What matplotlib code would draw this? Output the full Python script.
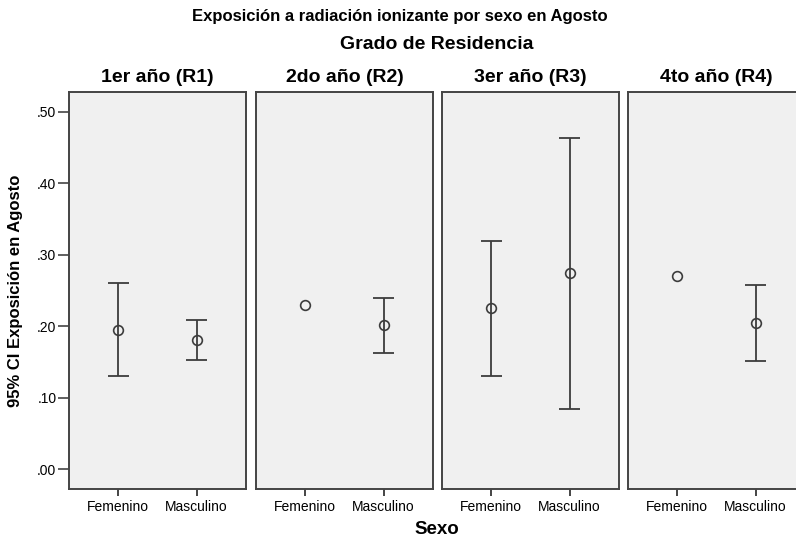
import matplotlib
matplotlib.use('Agg')
import matplotlib.pyplot as plt
from matplotlib.ticker import FuncFormatter

plt.rcParams['font.family'] = ['Liberation Sans', 'DejaVu Sans']

panels = ['1er año (R1)', '2do año (R2)', '3er año (R3)', '4to año (R4)']
sexo = ['Femenino', 'Masculino']
# media y limites del IC 95% (None = sin intervalo)
media = [[0.195, 0.181], [0.230, 0.202], [0.225, 0.274], [0.270, 0.205]]
ic_inf = [[0.130, 0.152], [None, 0.163], [0.130, 0.084], [None, 0.151]]
ic_sup = [[0.260, 0.208], [None, 0.239], [0.320, 0.464], [None, 0.258]]
y_ticks = [0.0, 0.1, 0.2, 0.3, 0.4, 0.5]

W, H = 796, 541
fig = plt.figure(figsize=(W / 100, H / 100), dpi=100)
fig.patch.set_facecolor('white')

edge = '#444444'
line_c = '#3c3c3c'
lefts = [69, 256, 442, 628]
pw = 177
top, bottom = 92, 489

for i, name in enumerate(panels):
    ax = fig.add_axes([lefts[i] / W, 1 - bottom / H, pw / W, (bottom - top) / H])
    ax.set_facecolor('#f0f0f0')
    for s in ax.spines.values():
        s.set_color(edge)
        s.set_linewidth(1.4)
    for j in range(2):
        if ic_inf[i][j] is not None:
            ax.vlines(j, ic_inf[i][j], ic_sup[i][j], color=line_c, lw=1.3)
            ax.hlines([ic_inf[i][j], ic_sup[i][j]], j - 0.13, j + 0.13, color=line_c, lw=1.3)
        ax.plot(j, media[i][j], 'o', ms=7, mfc='none', mec=line_c, mew=1.2)
    ax.set_xlim(-0.63, 1.63)
    ax.set_ylim(-0.028, 0.528)
    ax.set_xticks([0, 1])
    ax.set_xticklabels(sexo, fontsize=10)
    ax.tick_params(axis='x', length=5, width=1.4, color=edge, pad=3)
    if i == 0:
        ax.set_yticks(y_ticks)
        ax.yaxis.set_major_formatter(FuncFormatter(lambda v, p: ('%.2f' % v)[1:]))
        ax.tick_params(axis='y', length=8, width=1.2, color=edge, labelsize=10, pad=1)
        ax.set_ylabel('95% CI Exposición en Agosto', fontsize=12, fontweight='bold')
        ax.yaxis.set_label_coords(-0.26, 0.5)
    else:
        ax.set_yticks([])
    if i == 3:
        ax.spines['right'].set_visible(False)
    ax.set_title(name, fontsize=14, fontweight='bold', pad=7)

fig.text(400 / W, 1 - 17 / H, 'Exposición a radiación ionizante por sexo en Agosto',
         ha='center', va='center', fontsize=12, fontweight='bold')
fig.text(437 / W, 1 - 45 / H, 'Grado de Residencia',
         ha='center', va='center', fontsize=14, fontweight='bold')
fig.text(437 / W, 1 - 530 / H, 'Sexo',
         ha='center', va='center', fontsize=13.5, fontweight='bold')

plt.savefig('out.png', dpi=100)
